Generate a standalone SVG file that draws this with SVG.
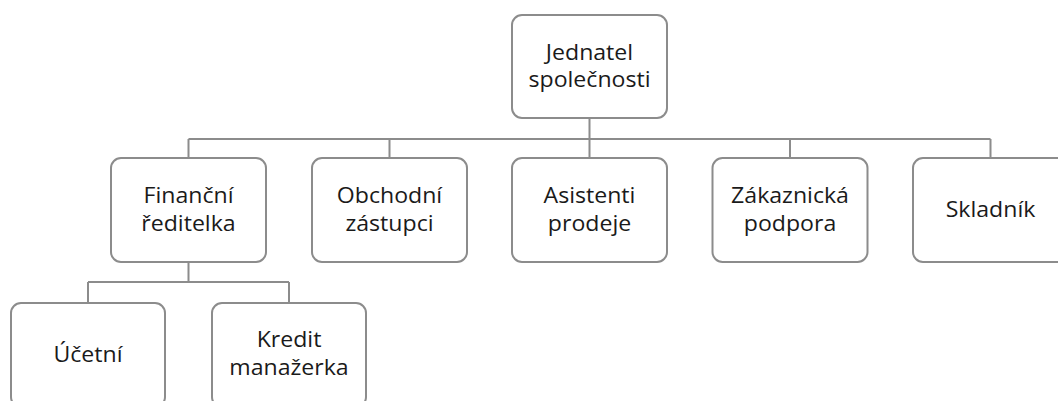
<svg xmlns="http://www.w3.org/2000/svg" width="1058" height="401" viewBox="0 0 1058 401">
<style>
.box{fill:#ffffff;stroke:#8c8c8c;stroke-width:2}
.conn{fill:none;stroke:#8c8c8c;stroke-width:2}
.t{font-family:"Open Sans","Noto Sans",sans-serif;font-size:21px;fill:#1a1a1a;text-anchor:middle}
</style>
<rect width="1058" height="401" fill="#ffffff"/>
<g id="connectors">
<path class="conn" d="M589.5 118V158M188.5 139H990.5M188.5 139V158M389.5 139V158M790 139V158M990.5 139V158"/>
<path class="conn" d="M188.5 262V282M88 282H289M88 282V303M289 282V303"/>
</g>
<g id="n-jednatel">
<rect class="box" x="512" y="15" width="155" height="103" rx="10"/>
<g transform="translate(589.5 0) scale(1.1 1)"><text class="t" x="0" y="60">Jednatel</text><text class="t" x="0" y="87">společnosti</text></g>
</g>
<g id="n-financni">
<rect class="box" x="111" y="158" width="155" height="104" rx="10"/>
<g transform="translate(188.5 0) scale(1.1 1)"><text class="t" x="0" y="203">Finanční</text><text class="t" x="0" y="231">ředitelka</text></g>
</g>
<g id="n-obchodni">
<rect class="box" x="312" y="158" width="155" height="104" rx="10"/>
<g transform="translate(389.5 0) scale(1.1 1)"><text class="t" x="0" y="203">Obchodní</text><text class="t" x="0" y="231">zástupci</text></g>
</g>
<g id="n-asistenti">
<rect class="box" x="512" y="158" width="155" height="104" rx="10"/>
<g transform="translate(589.5 0) scale(1.1 1)"><text class="t" x="0" y="203">Asistenti</text><text class="t" x="0" y="231">prodeje</text></g>
</g>
<g id="n-zakaznicka">
<rect class="box" x="712.5" y="158" width="155" height="104" rx="10"/>
<g transform="translate(790 0) scale(1.1 1)"><text class="t" x="0" y="203">Zákaznická</text><text class="t" x="0" y="231">podpora</text></g>
</g>
<g id="n-skladnik">
<rect class="box" x="913" y="158" width="155" height="104" rx="10"/>
<g transform="translate(990.5 0) scale(1.1 1)"><text class="t" x="0" y="217.5">Skladník</text></g>
</g>
<g id="n-ucetni">
<rect class="box" x="11" y="303" width="154" height="104" rx="10"/>
<g transform="translate(88 0) scale(1.1 1)"><text class="t" x="0" y="362">Účetní</text></g>
</g>
<g id="n-kredit">
<rect class="box" x="212" y="303" width="154" height="104" rx="10"/>
<g transform="translate(289 0) scale(1.1 1)"><text class="t" x="0" y="347">Kredit</text><text class="t" x="0" y="375">manažerka</text></g>
</g>
</svg>
